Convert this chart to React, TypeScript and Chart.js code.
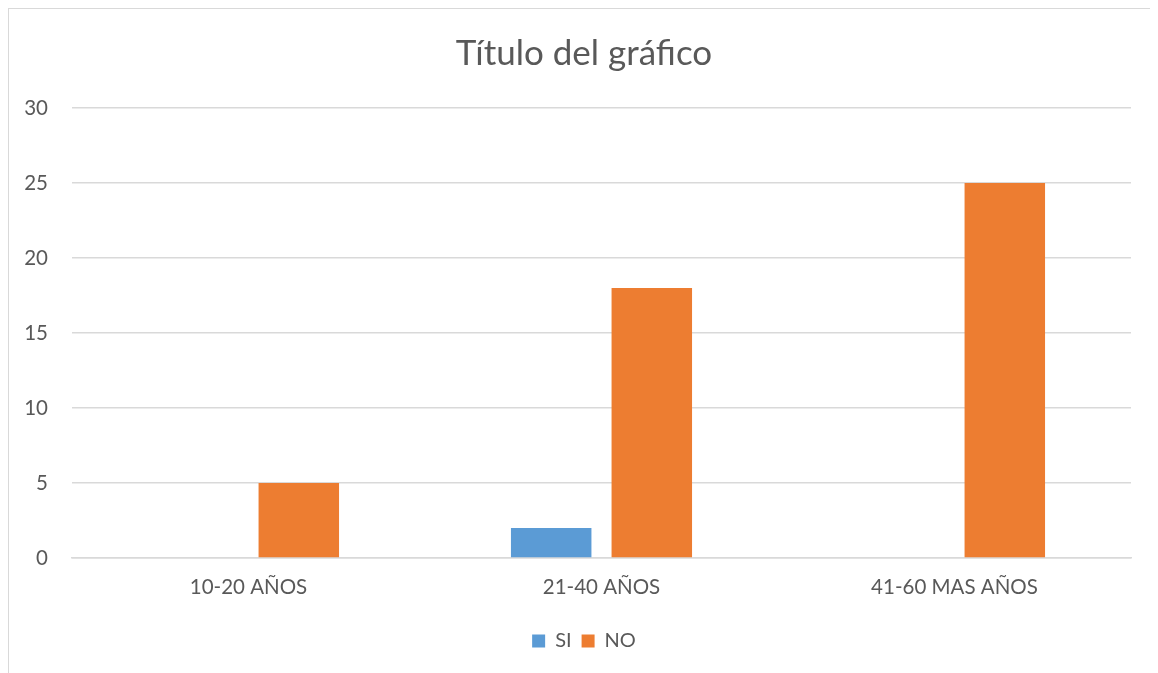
import React, { useEffect, useRef } from "react";
import { Chart, registerables } from "chart.js";

Chart.register(...registerables);

const categories = ["10-20 AÑOS", "21-40 AÑOS", "41-60 MAS AÑOS"];
const siValues = [0, 2, 0];
const noValues = [5, 18, 25];
const yTickMax = 30;
const yTickStep = 5;
const titleText = "Título del gráfico";
const FONT = "Lato, 'Open Sans', sans-serif";
const TICK_SIZE = 20.5;

function measure(text: string, size: number) {
  const c = document.createElement("canvas").getContext("2d")!;
  c.font = `${size}px ${FONT}`;
  return c.measureText(text).width;
}

export default function App() {
  const ref = useRef<HTMLCanvasElement | null>(null);
  useEffect(() => {
    if (!ref.current) return;
    const widest = measure(String(yTickMax), TICK_SIZE);
    const chart = new Chart(ref.current, {
      type: "bar",
      data: {
        labels: categories,
        datasets: [
          { label: "SI", data: siValues, backgroundColor: "#5B9BD5", categoryPercentage: 0.57, barPercentage: 0.8 },
          { label: "NO", data: noValues, backgroundColor: "#ED7D31", categoryPercentage: 0.57, barPercentage: 0.8 },
        ],
      },
      options: {
        animation: false,
        responsive: false,
        maintainAspectRatio: false,
        layout: { padding: { left: 28, right: 28, top: 0, bottom: 13 } },
        plugins: {
          title: {
            display: true,
            text: titleText,
            color: "#595959",
            font: { family: FONT, size: 35, weight: "normal" },
            padding: { top: 24, bottom: 33 },
          },
          legend: {
            position: "bottom",
            labels: {
              color: "#595959",
              font: { family: FONT, size: 20 },
              boxWidth: 13,
              boxHeight: 13,
              padding: 10,
            },
          },
          tooltip: { enabled: false },
        },
        scales: {
          x: {
            grid: { display: false, drawTicks: false },
            border: { display: true, color: "#d9d9d9", width: 1.5 },
            ticks: { color: "#595959", font: { family: FONT, size: TICK_SIZE }, padding: 17 },
            afterFit: (s: any) => { s.height = 63; },
          },
          y: {
            min: 0,
            max: yTickMax,
            grid: { color: "#d9d9d9", lineWidth: 1.5, drawTicks: false },
            border: { display: false },
            ticks: {
              stepSize: yTickStep,
              color: "#595959",
              font: { family: FONT, size: TICK_SIZE },
              mirror: true,
              crossAlign: "far",
              padding: -(24 + widest),
            },
            afterFit: (s: any) => { s.width = 35; },
          },
        },
      },
    });
    return () => chart.destroy();
  }, []);
  return (
    <div style={{ width: 1150, height: 670, borderLeft: "1.5px solid #d9d9d9", borderTop: "1.5px solid #d9d9d9", background: "#fff" }}>
      <canvas ref={ref} width={1150} height={665} style={{ display: "block" }} />
    </div>
  );
}
